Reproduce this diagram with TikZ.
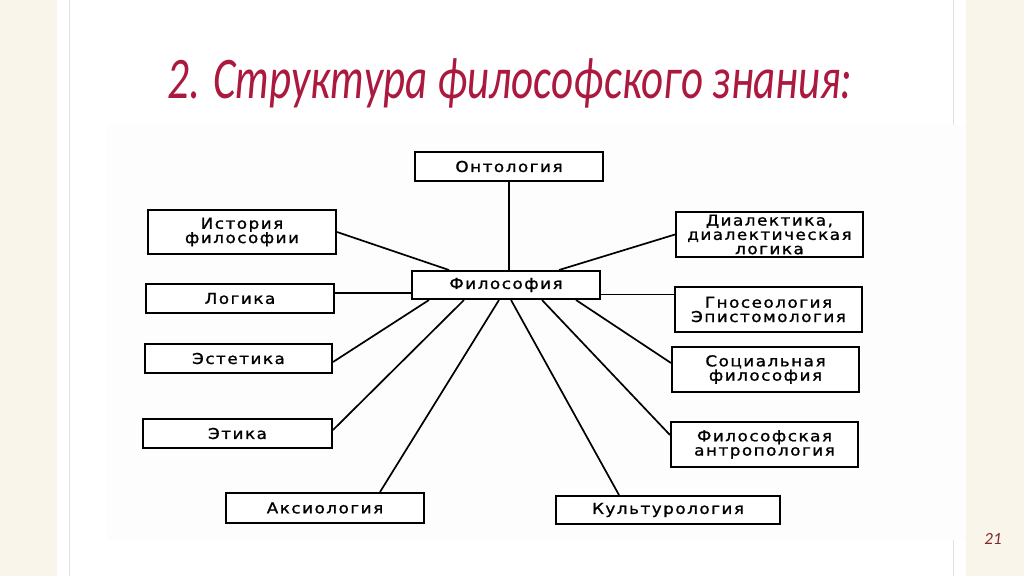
\documentclass[tikz,border=0pt]{standalone}
\usepackage{fontspec}
\usepackage{graphicx}
\usetikzlibrary{calc}
\newfontfamily\titlefont{Carlito}
\newfontfamily\boxfont{DejaVu Sans}[FakeStretch=1.12,LetterSpace=10,FakeBold=1.2]
\definecolor{beige}{HTML}{FAF5EA}
\definecolor{panelline}{HTML}{E2E0DA}
\definecolor{scanbg}{HTML}{FDFDFD}
\definecolor{titlered}{RGB}{171,25,62}
\definecolor{numcolor}{HTML}{7F2A2A}
\tikzset{
  box/.style={draw=black, line width=2pt, fill=white, inner sep=0pt, align=center,
    font=\boxfont\fontsize{15}{14.3}\selectfont},
  conn/.style={draw=black, line width=1.7pt}
}
\begin{document}
\begin{tikzpicture}[x=1pt,y=-1pt]
\useasboundingbox (0,0) rectangle (1024,576);
% background
\fill[beige] (0,0) rectangle (1024,576);
\fill[white] (57,0) rectangle (966,576);
\draw[panelline, line width=1pt] (69.5,0) -- (69.5,576);
\draw[panelline, line width=1pt] (953,0) -- (953,125);
\draw[panelline, line width=1pt] (953,540) -- (953,576);
\fill[scanbg] (107,125) rectangle (966,540);
% title
\node[anchor=base, text=titlered, inner sep=0pt] (title) at (510,98)
  {\resizebox{685pt}{\height}{\titlefont\itshape\fontsize{59}{59}\selectfont 2. Структура философского знания:}};
\node[text=numcolor, inner sep=0pt, font=\titlefont\itshape\fontsize{17}{17}\selectfont] (pagenum) at (993,539) {21};
% boxes
\node[box, minimum width=188pt, minimum height=29pt] (onto) at (509,166.5) {Онтология};
\node[box, minimum width=188pt, minimum height=44pt] (hist) at (242,232) {История\\философии};
\node[box, minimum width=188pt, minimum height=29pt] (logic) at (240,298.5) {Логика};
\node[box, minimum width=188pt, minimum height=28pt] (phil) at (506,285) {Философия};
\node[box, minimum width=187pt, minimum height=29pt] (aesth) at (238.5,358.5) {Эстетика};
\node[box, minimum width=189pt, minimum height=29pt] (ethic) at (237.5,433.5) {Этика};
\node[box, minimum width=198pt, minimum height=30pt] (axio) at (325,508) {Аксиология};
\node[box, minimum width=224pt, minimum height=28pt] (cult) at (668,510) {Культурология};
\node[box, minimum width=187pt, minimum height=45pt] (dial) at (769.5,234.5) {Диалектика,\\диалектическая\\логика};
\node[box, minimum width=187pt, minimum height=45pt] (gnos) at (768.5,309.5) {Гносеология\\Эпистомология};
\node[box, minimum width=187pt, minimum height=45pt] (soc) at (765.5,369.5) {Социальная\\философия};
\node[box, minimum width=187pt, minimum height=45pt] (anthr) at (764.5,444.5) {Философская\\антропология};
% connectors
\draw[conn] (onto.south) -- (onto.south |- phil.north);
\draw[conn] (hist.east) -- ($(phil.north west)+(38,0)$);
\coordinate (lg) at ($(logic.east)+(0,-5.5)$);
\draw[conn] (lg) -- (lg -| phil.west);
\draw[conn] ($(phil.north west)+(148,0)$) -- (dial.west);
\coordinate (gn) at ($(phil.east)+(0,9.5)$);
\draw[conn] (gn) -- (gn -| gnos.west);
\draw[conn] ($(phil.south west)+(165,0)$) -- ($(soc.west)+(0,-6.5)$);
\draw[conn] ($(phil.south west)+(131,0)$) -- ($(anthr.west)+(0,-9.5)$);
\draw[conn] ($(phil.south west)+(100,0)$) -- ($(cult.north west)+(64,0)$);
\draw[conn] ($(phil.south west)+(88,0)$) -- ($(axio.north west)+(155,0)$);
\draw[conn] ($(phil.south west)+(53,0)$) -- ($(ethic.east)+(0,-3.5)$);
\draw[conn] ($(phil.south west)+(18,0)$) -- ($(aesth.east)+(0,3.5)$);
\end{tikzpicture}
\end{document}
